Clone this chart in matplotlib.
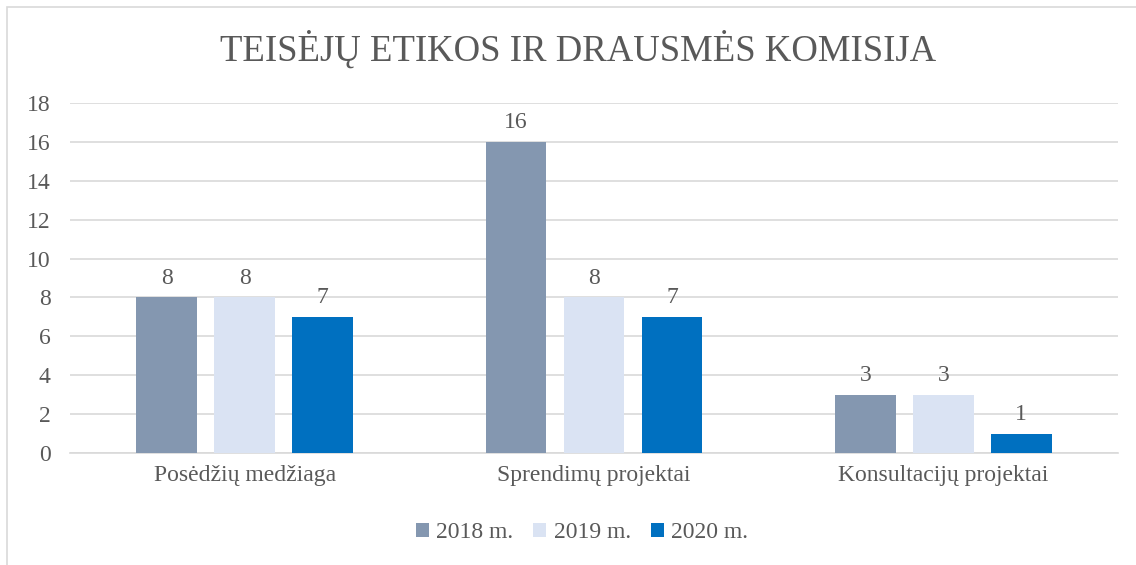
import matplotlib.pyplot as plt
import numpy as np
from matplotlib.patches import Rectangle

plt.rcParams['font.family'] = ['Liberation Serif', 'DejaVu Serif']

categories = ['Posėdžių medžiaga', 'Sprendimų projektai', 'Konsultacijų projektai']
years = ['2018 m.', '2019 m.', '2020 m.']
values_2018 = [8, 16, 3]
values_2019 = [8, 8, 3]
values_2020 = [7, 7, 1]
colors = ['#8497B0', '#DAE3F3', '#0070C0']
yticks = [0, 2, 4, 6, 8, 10, 12, 14, 16, 18]

text_col = '#595959'
grid_col = '#D9D9D9'

fig = plt.figure(figsize=(11.36, 5.65), dpi=100)
ax = fig.add_axes([70 / 1136, 1 - 453 / 565, 1048 / 1136, 350 / 565])

# chart border (cut at right/bottom in the original)
fig.add_artist(Rectangle((7 / 1136, -0.1), 1.2, 1 - 7 / 565 + 0.1,
                         transform=fig.transFigure, fill=False,
                         edgecolor=grid_col, linewidth=1.2))

x = np.arange(len(categories))
width = 0.174
pitch = 0.223
series = [values_2018, values_2019, values_2020]
for i, (vals, lab, col) in enumerate(zip(series, years, colors)):
    bars = ax.bar(x + (i - 1) * pitch, vals, width, color=col, label=lab, zorder=3)
    for b, v in zip(bars, vals):
        ax.text(b.get_x() + b.get_width() / 2, v + 0.45, str(v), ha='center',
                va='bottom', fontsize=17, color=text_col)

ax.set_xlim(-0.5, 2.5)
ax.set_ylim(0, 18)
ax.set_yticks(yticks)
ax.yaxis.grid(True, color=grid_col, linewidth=1.2, zorder=0)
ax.set_axisbelow(True)
for s in ['top', 'right', 'left']:
    ax.spines[s].set_visible(False)
ax.spines['bottom'].set_color(grid_col)
ax.spines['bottom'].set_linewidth(1.2)
ax.tick_params(axis='both', length=0, labelsize=17, colors=text_col)
ax.tick_params(axis='y', pad=14)
ax.tick_params(axis='x', pad=9)
ax.set_xticks(x)
ax.set_xticklabels(categories)

fig.text(578 / 1136, 1 - 50 / 565, 'TEISĖJŲ ETIKOS IR DRAUSMĖS KOMISIJA',
         ha='center', va='center', fontsize=26.5, color=text_col)

fig.legend(loc='center', bbox_to_anchor=(582 / 1136, 1 - 533 / 565), ncol=3,
           frameon=False, fontsize=17, labelcolor=text_col, handlelength=0.55,
           handleheight=0.55, handletextpad=0.3, columnspacing=0.85)

fig.savefig('out.png', dpi=100)
